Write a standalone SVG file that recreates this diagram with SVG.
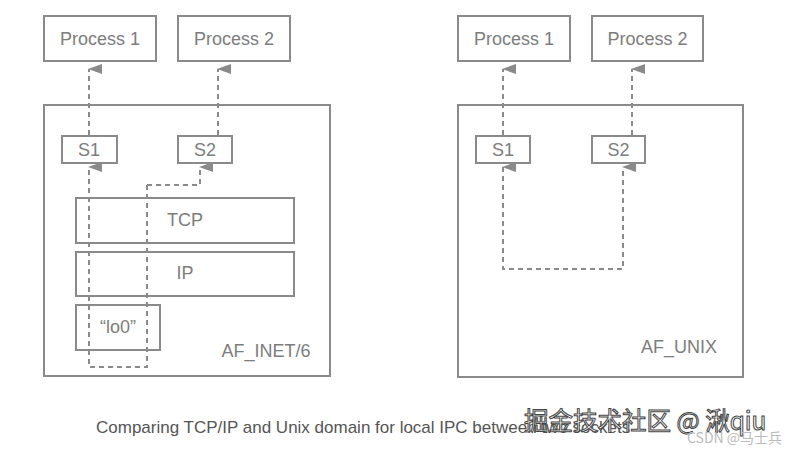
<svg xmlns="http://www.w3.org/2000/svg" width="791" height="451" viewBox="0 0 791 451">
<defs>
<marker id="ah" viewBox="0 0 10 14" refX="5" refY="1" markerWidth="10" markerHeight="14" markerUnits="userSpaceOnUse" orient="auto-start-reverse">
<path d="M5 0 L10 14 L0 14 Z" fill="#8a8a8a"/>
</marker>
</defs>
<style>
.box{fill:#fff;stroke:#8a8a8a;stroke-width:2}
.t{font-family:"Liberation Sans",Arial,sans-serif;fill:#7d7d7d;font-size:18px;text-anchor:middle;dominant-baseline:central}
.c{fill:none;stroke:#8a8a8a;stroke-width:2;stroke-dasharray:5 4}
</style>
<rect width="791" height="451" fill="#fff"/>
<g id="left-domain"><rect class="box" x="44" y="105" width="286" height="271"/><text class="t" x="266" y="351">AF_INET/6</text></g>
<g id="left-p1"><rect class="box" x="44" y="16" width="112" height="45"/><text class="t" x="100" y="38.5">Process 1</text></g>
<g id="left-p2"><rect class="box" x="178" y="16" width="112" height="45"/><text class="t" x="234" y="38.5">Process 2</text></g>
<g id="left-s1"><rect class="box" x="62" y="136" width="55" height="27"/><text class="t" x="89" y="149.5">S1</text></g>
<g id="left-s2"><rect class="box" x="178" y="136" width="54" height="27"/><text class="t" x="205" y="149.5">S2</text></g>
<g id="tcp"><rect class="box" x="76" y="198" width="218" height="45"/><text class="t" x="185" y="220">TCP</text></g>
<g id="ip"><rect class="box" x="76" y="252" width="218" height="44"/><text class="t" x="185" y="273">IP</text></g>
<g id="lo0"><rect class="box" x="76" y="305" width="84" height="45"/><text class="t" x="118" y="327">“lo0”</text></g>
<g id="right-domain"><rect class="box" x="458" y="105" width="285" height="272"/><text class="t" x="679" y="347">AF_UNIX</text></g>
<g id="right-p1"><rect class="box" x="458" y="16" width="112" height="45"/><text class="t" x="514" y="38.5">Process 1</text></g>
<g id="right-p2"><rect class="box" x="592" y="16" width="111" height="45"/><text class="t" x="647.5" y="38.5">Process 2</text></g>
<g id="right-s1"><rect class="box" x="476" y="136" width="54" height="27"/><text class="t" x="503" y="149.5">S1</text></g>
<g id="right-s2"><rect class="box" x="592" y="136" width="53" height="27"/><text class="t" x="618.5" y="149.5">S2</text></g>
<g id="connectors">
<path class="c" d="M89 135 V69" marker-end="url(#ah)"/>
<path class="c" d="M218 135 V69" marker-end="url(#ah)"/>
<path class="c" d="M147 185 V367 H89 V167" marker-end="url(#ah)"/>
<path class="c" d="M147 185 H200 V167" marker-end="url(#ah)"/>
<path class="c" d="M503 135 V69" marker-end="url(#ah)"/>
<path class="c" d="M632 135 V69" marker-end="url(#ah)"/>
<path class="c" d="M503 167 V269 H623 V167" marker-start="url(#ah)" marker-end="url(#ah)"/>
</g>
<text x="96" y="433" style="font-family:'Liberation Sans',Arial,sans-serif;font-size:17px;fill:#555">Comparing TCP/IP and Unix domain for local IPC between two sockets</text>
<text x="524" y="430" style="font-family:'Noto Sans CJK SC','Liberation Sans',sans-serif;font-size:24.5px;fill:#fff;stroke:#444;stroke-width:1">掘金技术社区 @ 湫qiu</text>
<text x="687" y="443" style="font-family:'Noto Sans CJK SC','Liberation Sans',sans-serif;font-size:14px;fill:#bbb">CSDN @马士兵</text>
</svg>
